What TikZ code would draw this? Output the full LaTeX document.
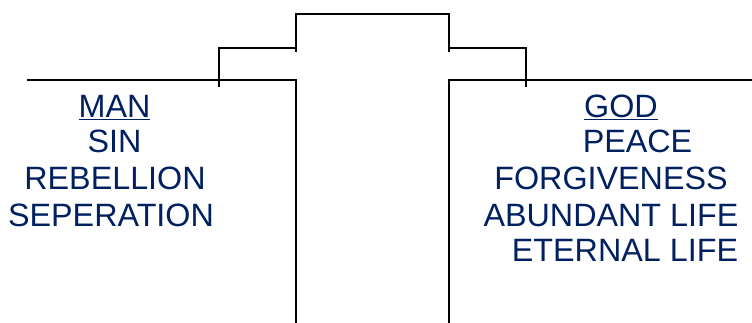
\documentclass[tikz,border=0pt]{standalone}
\usepackage{fontspec}
\setmainfont{Liberation Sans}
\usepackage{tikz}
\usetikzlibrary{positioning}
\definecolor{wordblue}{RGB}{0,32,96}

\begin{document}
\begin{tikzpicture}[x=1pt, y=-1pt, line width=1.6pt,
    word/.style={anchor=base, text=wordblue, inner sep=0pt, font=\fontsize{32.3}{36}\selectfont}]
        \useasboundingbox (0,0) rectangle (752,323);
        % the cross
        \coordinate (la) at (27,80);
        \coordinate (lb) at (296,80);
        \coordinate (lc) at (296,323);
        \coordinate (ra) at (752,80);
        \coordinate (rb) at (449,80);
        \coordinate (rc) at (449,323);
        \draw (la) -- (lb) -- (lc);
        \draw (ra) -- (rb) -- (rc);
        \draw (219,87) -- (219,48) -- (296,48);
        \draw (296,52) -- (296,14) -- (449,14) -- (449,52);
        \draw (449,48) -- (526,48) -- (526,87);

        % man side
        \node (man) [word] at (114.5,117.7) {\underline{MAN}};
        \node (sin) [word] at (114.5,152.7) {SIN};
        \node (rebellion) [word] at (115,190) {REBELLION};
        \node (seperation) [word] at (111,226.7) {SEPERATION};

        % god side
        \node (god) [word] at (621,117.7) {\underline{GOD}};
        \node (peace) [word] at (637.5,152.7) {PEACE};
        \node (forgiveness) [word] at (611,190) {FORGIVENESS};
        \node (abundant) [word] at (611,226.7) {ABUNDANT LIFE};
        \node (eternal) [word] at (625,261.7) {ETERNAL LIFE};
    \end{tikzpicture}
\end{document}
